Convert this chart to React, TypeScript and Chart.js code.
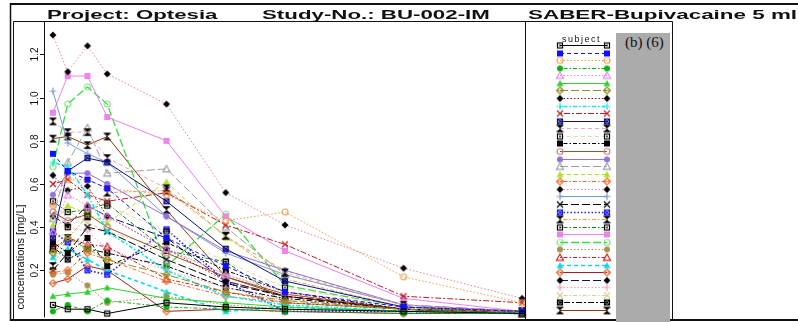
import React, { useEffect, useRef } from 'react';
import { Chart, registerables } from 'chart.js';

Chart.register(...registerables);

// Sampling times (h) and y-axis ticks
const TIMES = [1, 4, 8, 12, 24, 36, 48, 72, 96];
const Y_TICKS = [0.2, 0.4, 0.6, 0.8, 1.0, 1.2];
const Y_TICK_LABELS = ['0.2', '0.4', '0.6', '0.8', '1.0', '1.2'];
const Y_TITLE = 'concentrations [mg/L]';
const LEGEND_TITLE = 'subject';

// Plasma concentrations (mg/L) per subject at TIMES
const S01 = [0.04, 0.02, 0.02, 0.00, 0.05, 0.03, 0.02, 0.01, 0.00];
const S02 = [0.74, 0.66, 0.62, 0.58, 0.35, 0.22, 0.10, 0.03, 0.01];
const S03 = [0.50, 0.62, 0.62, 0.58, 0.55, 0.43, 0.47, 0.17, 0.05];
const S04 = [0.01, 0.04, 0.01, 0.06, 0.03, 0.02, 0.01, 0.00, 0.00];
const S05 = [0.38, 0.55, 0.50, 0.45, 0.30, 0.18, 0.10, 0.03, 0.01];
const S06 = [0.08, 0.09, 0.10, 0.12, 0.07, 0.05, 0.03, 0.01, 0.00];
const S07 = [0.28, 0.35, 0.30, 0.25, 0.18, 0.10, 0.06, 0.02, 0.01];
const S08 = [0.64, 0.57, 0.59, 0.45, 0.30, 0.15, 0.08, 0.02, 0.01];
const S09 = [0.70, 0.68, 0.55, 0.38, 0.20, 0.08, 0.04, 0.01, 0.00];
const S10 = [0.60, 0.62, 0.55, 0.52, 0.56, 0.41, 0.32, 0.08, 0.05];
const S11 = [0.35, 0.66, 0.72, 0.70, 0.52, 0.30, 0.15, 0.03, 0.01];
const S12 = [0.89, 0.84, 0.84, 0.72, 0.58, 0.36, 0.19, 0.04, 0.01];
const S13 = [0.30, 0.40, 0.45, 0.50, 0.38, 0.24, 0.12, 0.03, 0.01];
const S14 = [0.33, 0.28, 0.35, 0.22, 0.33, 0.20, 0.10, 0.02, 0.01];
const S15 = [0.47, 0.43, 0.46, 0.40, 0.28, 0.17, 0.09, 0.02, 0.00];
const S16 = [0.55, 0.65, 0.65, 0.60, 0.45, 0.29, 0.20, 0.04, 0.01];
const S17 = [0.44, 0.70, 0.86, 0.65, 0.67, 0.40, 0.18, 0.04, 0.01];
const S18 = [0.41, 0.50, 0.46, 0.42, 0.61, 0.35, 0.20, 0.04, 0.01];
const S19 = [0.19, 0.20, 0.28, 0.25, 0.15, 0.08, 0.05, 0.02, 0.01];
const S20 = [1.29, 1.12, 1.24, 1.11, 0.97, 0.56, 0.41, 0.21, 0.07];
const S21 = [1.03, 0.79, 0.74, 0.70, 0.45, 0.28, 0.18, 0.04, 0.01];
const S22 = [0.20, 0.28, 0.40, 0.38, 0.25, 0.14, 0.08, 0.02, 0.00];
const S23 = [0.38, 0.33, 0.20, 0.18, 0.39, 0.15, 0.01, 0.01, 0.00];
const S24 = [0.22, 0.35, 0.45, 0.56, 0.57, 0.36, 0.16, 0.03, 0.01];
const S25 = [0.52, 0.47, 0.48, 0.51, 0.29, 0.24, 0.05, 0.02, 0.01];
const S26 = [0.93, 1.10, 1.10, 0.91, 0.80, 0.45, 0.29, 0.07, 0.01];
const S27 = [0.68, 0.97, 1.05, 0.97, 0.22, 0.46, 0.13, 0.03, 0.01];
const S28 = [0.18, 0.19, 0.13, 0.05, 0.08, 0.04, 0.02, 0.01, 0.00];
const S29 = [0.30, 0.35, 0.32, 0.31, 0.16, 0.10, 0.05, 0.02, 0.00];
const S30 = [0.26, 0.30, 0.25, 0.20, 0.10, 0.01, 0.03, 0.01, 0.00];
const S31 = [0.14, 0.16, 0.22, 0.20, 0.01, 0.02, 0.01, 0.00, 0.00];
const S32 = [0.45, 0.41, 0.50, 0.45, 0.35, 0.15, 0.08, 0.02, 0.00];
const S33 = [0.50, 0.40, 0.38, 0.30, 0.20, 0.12, 0.06, 0.02, 0.00];
const S34 = [0.36, 0.48, 0.42, 0.38, 0.30, 0.18, 0.09, 0.02, 0.00];
const S35 = [0.31, 0.25, 0.30, 0.28, 0.22, 0.12, 0.07, 0.02, 0.00];
const S36 = [0.81, 0.82, 0.78, 0.82, 0.48, 0.17, 0.08, 0.02, 0.00];

const SUBJECTS = [
  S01, S02, S03, S04, S05, S06, S07, S08, S09, S10, S11, S12,
  S13, S14, S15, S16, S17, S18, S19, S20, S21, S22, S23, S24,
  S25, S26, S27, S28, S29, S30, S31, S32, S33, S34, S35, S36,
];

type MarkerKind =
  | 'boxDot' | 'boxFill' | 'circle' | 'circleFill' | 'tri' | 'triFill'
  | 'diamondBar' | 'diamondFill' | 'plus' | 'cross' | 'boxX' | 'hourglass';

const DASHES: Record<string, number[]> = {
  solid: [],
  dashed: [4, 3],
  dotted: [1.5, 2],
  dotdash: [1.5, 2, 4, 2],
  longdash: [8, 3],
  twodash: [2, 2, 6, 2],
};

// line colour, marker colour, marker, line type, line width
const SERIES_STYLE: [string, string, MarkerKind, string, number][] = [
  ['#000000', '#000000', 'boxDot', 'solid', 1],
  ['#1010ff', '#1010ff', 'boxFill', 'dashed', 1],
  ['#f0a050', '#f0a050', 'circle', 'dotted', 1],
  ['#10b010', '#10b010', 'circleFill', 'dotdash', 1],
  ['#e888e8', '#e888e8', 'tri', 'dotted', 1],
  ['#30d030', '#30d030', 'triFill', 'solid', 1],
  ['#909020', '#909020', 'diamondBar', 'longdash', 1],
  ['#a01010', '#000000', 'diamondFill', 'dotted', 1],
  ['#10e8f0', '#10e8f0', 'plus', 'dotdash', 1.6],
  ['#c02020', '#c02020', 'cross', 'twodash', 1],
  ['#101080', '#101080', 'boxX', 'solid', 1],
  ['#f0a8b8', '#000000', 'hourglass', 'dashed', 1],
  ['#e8dcb0', '#000000', 'boxDot', 'dashed', 1],
  ['#000000', '#000000', 'boxFill', 'dotdash', 1],
  ['#a0522d', '#c08080', 'circle', 'solid', 1],
  ['#9370db', '#9370db', 'circleFill', 'solid', 1],
  ['#a0a0a0', '#a0a0a0', 'tri', 'longdash', 1],
  ['#b0e020', '#b0e020', 'triFill', 'dashed', 1],
  ['#f07030', '#f07030', 'diamondBar', 'dotdash', 1],
  ['#f080a0', '#000000', 'diamondFill', 'dotted', 1],
  ['#7b9bd1', '#7b9bd1', 'plus', 'solid', 1],
  ['#000000', '#000000', 'cross', 'longdash', 1],
  ['#2020ff', '#2020ff', 'boxX', 'dotted', 1.6],
  ['#e0a050', '#000000', 'hourglass', 'dotdash', 1],
  ['#108010', '#000000', 'boxDot', 'dotdash', 1],
  ['#ee82ee', '#ee82ee', 'boxFill', 'solid', 1],
  ['#40d840', '#80e080', 'circle', 'longdash', 1.3],
  ['#a89050', '#a89050', 'circleFill', 'dotted', 1],
  ['#d02020', '#d02020', 'tri', 'dotdash', 1],
  ['#10d8e8', '#10d8e8', 'triFill', 'dashed', 1.6],
  ['#a02020', '#e07040', 'diamondBar', 'solid', 1],
  ['#101070', '#000000', 'diamondFill', 'longdash', 1],
  ['#f8a0c0', '#f8a0c0', 'plus', 'dotted', 1],
  ['#d8cc98', '#d8cc98', 'cross', 'dotdash', 1],
  ['#000000', '#000000', 'boxX', 'twodash', 1],
  ['#8b3a13', '#000000', 'hourglass', 'solid', 1],
];

const TITLE_PARTS = [
  { text: 'Project: Optesia', x: 47, w: 171 },
  { text: 'Study-No.: BU-002-IM', x: 262, w: 228 },
  { text: 'SABER-Bupivacaine 5 ml', x: 528, w: 269 },
];

function paintMarker(ctx: CanvasRenderingContext2D, kind: MarkerKind, color: string, c: number, r: number) {
  ctx.strokeStyle = color;
  ctx.fillStyle = color;
  ctx.lineWidth = 1.2;
  const tri = () => {
    ctx.beginPath();
    ctx.moveTo(c, c - r - 0.5);
    ctx.lineTo(c + r + 0.5, c + r - 0.2);
    ctx.lineTo(c - r - 0.5, c + r - 0.2);
    ctx.closePath();
  };
  const diamond = () => {
    ctx.beginPath();
    ctx.moveTo(c, c - r - 0.5);
    ctx.lineTo(c + r + 0.5, c);
    ctx.lineTo(c, c + r + 0.5);
    ctx.lineTo(c - r - 0.5, c);
    ctx.closePath();
  };
  switch (kind) {
    case 'boxDot':
      ctx.strokeRect(c - r + 0.5, c - r + 0.5, 2 * r - 1, 2 * r - 1);
      ctx.fillRect(c - 0.8, c - 0.8, 1.6, 1.6);
      break;
    case 'boxFill':
      ctx.fillRect(c - r, c - r, 2 * r, 2 * r);
      break;
    case 'circle':
      ctx.beginPath();
      ctx.arc(c, c, r, 0, Math.PI * 2);
      ctx.stroke();
      break;
    case 'circleFill':
      ctx.beginPath();
      ctx.arc(c, c, r, 0, Math.PI * 2);
      ctx.fill();
      break;
    case 'tri':
      tri();
      ctx.stroke();
      break;
    case 'triFill':
      tri();
      ctx.fill();
      break;
    case 'diamondBar':
      diamond();
      ctx.stroke();
      ctx.beginPath();
      ctx.moveTo(c - r, c);
      ctx.lineTo(c + r, c);
      ctx.stroke();
      break;
    case 'diamondFill':
      diamond();
      ctx.fill();
      break;
    case 'plus':
      ctx.beginPath();
      ctx.moveTo(c - r - 0.5, c);
      ctx.lineTo(c + r + 0.5, c);
      ctx.moveTo(c, c - r - 0.5);
      ctx.lineTo(c, c + r + 0.5);
      ctx.stroke();
      break;
    case 'cross':
      ctx.beginPath();
      ctx.moveTo(c - r, c - r);
      ctx.lineTo(c + r, c + r);
      ctx.moveTo(c + r, c - r);
      ctx.lineTo(c - r, c + r);
      ctx.stroke();
      break;
    case 'boxX':
      ctx.strokeRect(c - r + 0.5, c - r + 0.5, 2 * r - 1, 2 * r - 1);
      ctx.beginPath();
      ctx.moveTo(c - r + 0.5, c - r + 0.5);
      ctx.lineTo(c + r - 0.5, c + r - 0.5);
      ctx.moveTo(c + r - 0.5, c - r + 0.5);
      ctx.lineTo(c - r + 0.5, c + r - 0.5);
      ctx.stroke();
      break;
    case 'hourglass':
      ctx.beginPath();
      ctx.moveTo(c - r, c - r);
      ctx.lineTo(c + r, c - r);
      ctx.lineTo(c, c);
      ctx.closePath();
      ctx.moveTo(c - r, c + r);
      ctx.lineTo(c + r, c + r);
      ctx.lineTo(c, c);
      ctx.closePath();
      ctx.fill();
      ctx.fillRect(c - r - 0.5, c - r - 0.8, 2 * r + 1, 1.2);
      ctx.fillRect(c - r - 0.5, c + r - 0.4, 2 * r + 1, 1.2);
      break;
  }
}

function makeMarker(kind: MarkerKind, color: string): HTMLCanvasElement {
  const cv = document.createElement('canvas');
  cv.width = 10;
  cv.height = 10;
  const ctx = cv.getContext('2d')!;
  paintMarker(ctx, kind, color, 5, 3);
  return cv;
}

export default function App() {
  const canvasRef = useRef<HTMLCanvasElement>(null);
  const titleRefs = useRef<(HTMLSpanElement | null)[]>([]);

  useEffect(() => {
    // stretch each header segment to its column width
    titleRefs.current.forEach((el, i) => {
      if (!el) return;
      const natural = el.offsetWidth || 1;
      el.style.transform = `scaleX(${TITLE_PARTS[i].w / natural})`;
    });

    const canvas = canvasRef.current;
    if (!canvas) return;
    const markers = SERIES_STYLE.map(([, mc, kind]) => makeMarker(kind, mc));

    const framePlugin = {
      id: 'frames',
      beforeDraw(chart: Chart) {
        const ctx = chart.ctx;
        ctx.save();
        ctx.fillStyle = '#ffffff';
        ctx.fillRect(0, 0, chart.width, chart.height);
        ctx.restore();
      },
      afterDraw(chart: Chart) {
        const ctx = chart.ctx;
        const area = chart.chartArea;
        const yScale = chart.scales.y;
        ctx.save();
        ctx.strokeStyle = '#111111';
        ctx.setLineDash([]);

        // outer page rules
        ctx.lineWidth = 2;
        ctx.beginPath();
        ctx.moveTo(10, 4);
        ctx.lineTo(798, 4);
        ctx.moveTo(10, 320);
        ctx.lineTo(798, 320);
        ctx.stroke();
        ctx.lineWidth = 1.5;
        ctx.beginPath();
        ctx.moveTo(10.5, 3);
        ctx.lineTo(10.5, 321);
        ctx.stroke();

        // plot + legend box
        ctx.lineWidth = 1;
        ctx.beginPath();
        ctx.moveTo(13.5, 21.5);
        ctx.lineTo(672.5, 21.5);
        ctx.lineTo(672.5, 319);
        ctx.moveTo(13.5, 21.5);
        ctx.lineTo(13.5, 319);
        ctx.moveTo(area.right + 0.5, 21.5);
        ctx.lineTo(area.right + 0.5, 319);
        ctx.stroke();

        // y axis
        ctx.beginPath();
        ctx.moveTo(area.left + 0.5, area.top);
        ctx.lineTo(area.left + 0.5, area.bottom);
        ctx.stroke();
        ctx.fillStyle = '#111111';
        ctx.font = '10px "Liberation Sans", Arial, sans-serif';
        ctx.textAlign = 'center';
        ctx.textBaseline = 'middle';
        Y_TICKS.forEach((v, i) => {
          const py = Math.round(yScale.getPixelForValue(v)) + 0.5;
          ctx.beginPath();
          ctx.moveTo(area.left - 4, py);
          ctx.lineTo(area.left, py);
          ctx.stroke();
          ctx.save();
          ctx.translate(35, py);
          ctx.rotate(-Math.PI / 2);
          ctx.fillText(Y_TICK_LABELS[i], 0, 0);
          ctx.restore();
        });
        ctx.save();
        ctx.font = '11px "Liberation Sans", Arial, sans-serif';
        ctx.translate(21, 257);
        ctx.rotate(-Math.PI / 2);
        ctx.fillText(Y_TITLE, 0, 0);
        ctx.restore();

        // legend
        ctx.font = '9px "Liberation Sans", Arial, sans-serif';
        ctx.textAlign = 'left';
        ctx.textBaseline = 'alphabetic';
        (ctx as any).letterSpacing = '1.5px';
        ctx.fillText(LEGEND_TITLE, 562, 42);
        (ctx as any).letterSpacing = '0px';
        chart.data.datasets.forEach((ds: any, i: number) => {
          const ly = Math.round(45 + i * 7.57) + 0.5;
          ctx.save();
          ctx.strokeStyle = ds.borderColor;
          ctx.lineWidth = ds.borderWidth;
          ctx.setLineDash(ds.borderDash);
          ctx.beginPath();
          ctx.moveTo(560, ly);
          ctx.lineTo(607, ly);
          ctx.stroke();
          ctx.restore();
          const m = markers[i];
          ctx.drawImage(m, 560 - m.width / 2, ly - m.height / 2);
          ctx.drawImage(m, 607 - m.width / 2, ly - m.height / 2);
        });
        ctx.restore();
      },
    };

    const chart = new Chart(canvas, {
      type: 'line',
      data: {
        datasets: SUBJECTS.map((vals, i) => {
          const [lc, , , dash, w] = SERIES_STYLE[i];
          return {
            label: String(i + 1),
            data: TIMES.map((t, k) => ({ x: t, y: vals[k] })),
            borderColor: lc,
            backgroundColor: lc,
            borderWidth: w,
            borderDash: DASHES[dash],
            pointStyle: markers[i],
            pointRadius: 3,
            pointHoverRadius: 3,
            tension: 0,
            fill: false,
            clip: false,
          };
        }),
      },
      options: {
        responsive: false,
        animation: false,
        events: [],
        layout: { padding: { left: 44, right: 273, top: 21, bottom: 3 } },
        scales: {
          x: { type: 'linear', display: false, min: -0.8, max: 96.6 },
          y: { type: 'linear', display: false, min: -0.018, max: 1.355 },
        },
        plugins: {
          legend: { display: false },
          tooltip: { enabled: false },
          title: { display: false },
        },
      },
      plugins: [framePlugin],
    } as any);

    return () => chart.destroy();
  }, []);

  return (
    <div
      style={{
        position: 'absolute',
        left: 0,
        top: 0,
        width: 798,
        height: 322,
        overflow: 'hidden',
        background: '#ffffff',
      }}
    >
      <canvas
        ref={canvasRef}
        width={798}
        height={322}
        style={{ position: 'absolute', left: 0, top: 0, width: 798, height: 322 }}
      />
      {TITLE_PARTS.map((p, i) => (
        <span
          key={p.text}
          ref={(el) => {
            titleRefs.current[i] = el;
          }}
          style={{
            position: 'absolute',
            left: p.x,
            top: 8,
            font: 'bold 13px "Liberation Sans", Arial, sans-serif',
            lineHeight: '13px',
            whiteSpace: 'nowrap',
            transformOrigin: '0 0',
            color: '#111111',
          }}
        >
          {p.text}
        </span>
      ))}
      <div
        style={{
          position: 'absolute',
          left: 616,
          top: 33,
          width: 54,
          height: 289,
          background: '#ababab',
        }}
      >
        <span
          style={{
            position: 'absolute',
            left: 9,
            top: 2,
            font: '15px "Liberation Serif", "Times New Roman", serif',
            lineHeight: '15px',
            whiteSpace: 'nowrap',
            color: '#111111',
          }}
        >
          (b) (6)
        </span>
      </div>
    </div>
  );
}
